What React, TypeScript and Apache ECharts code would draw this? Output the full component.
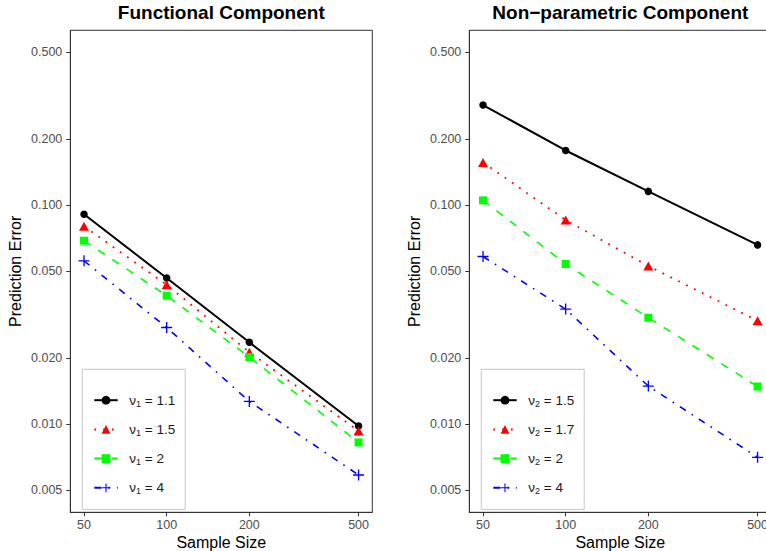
import React, { useEffect, useRef } from "react";
import * as echarts from "echarts";

// ---- data ----
const sampleSizes = [50, 100, 200, 500];
const yTicks = [0.005, 0.01, 0.02, 0.05, 0.1, 0.2, 0.5];
const yTickLabels = ["0.005", "0.010", "0.020", "0.050", "0.100", "0.200", "0.500"];
const xTickLabels = ["50", "100", "200", "500"];

const panelTitles = ["Functional Component", "Non\u2212parametric Component"];
const xAxisTitle = "Sample Size";
const yAxisTitle = "Prediction Error";

const functionalNuLabels = ["1.1", "1.5", "2", "4"];
const functionalNu1_1 = [0.091, 0.0466, 0.0237, 0.00983];
const functionalNu1_5 = [0.0802, 0.0434, 0.02136, 0.00933];
const functionalNu2 = [0.069, 0.0387, 0.0203, 0.00828];
const functionalNu4 = [0.0558, 0.0277, 0.01274, 0.00588];

const nonparNuLabels = ["1.5", "1.7", "2", "4"];
const nonparNu1_5 = [0.287, 0.178, 0.1158, 0.066];
const nonparNu1_7 = [0.157, 0.0857, 0.0529, 0.0297];
const nonparNu2 = [0.1054, 0.054, 0.0307, 0.0149];
const nonparNu4 = [0.0584, 0.0336, 0.01496, 0.00708];

// ---- styles ----
const FONT = "Liberation Sans, Arial, Helvetica, sans-serif";
const PLUS = "path://M4.4,0H5.6V4.4H10V5.6H5.6V10H4.4V5.6H0V4.4H4.4Z";
const seriesStyles = [
  { color: "#000000", width: 2, type: "solid", symbol: "circle", symbolSize: 7.5 },
  { color: "#ff0000", width: 1.8, type: [1.8, 7], symbol: "triangle", symbolSize: [10, 9] },
  { color: "#00ff00", width: 1.6, type: [8, 9], symbol: "rect", symbolSize: 8 },
  { color: "#0000ff", width: 1.6, type: [7, 7, 1.6, 7], symbol: PLUS, symbolSize: 11 },
];

const lg = Math.log10;
const labelFor = (v: number, ticks: number[], labels: string[]) => {
  for (let i = 0; i < ticks.length; i++) if (Math.abs(lg(ticks[i]) - v) < 1e-6) return labels[i];
  return "";
};

const App: React.FC = () => {
  const ref = useRef<HTMLDivElement>(null);
  useEffect(() => {
    if (!ref.current) return;
    const chart = echarts.init(ref.current, null, { renderer: "svg" });

    const xMin = lg(50) - 0.05;
    const xMax = lg(500) + 0.05;
    const yr = lg(0.5) - lg(0.005);
    const yMin = lg(0.005) - 0.05 * yr;
    const yMax = lg(0.5) + 0.05 * yr;

    const panels = [
      { sub: "1", labels: functionalNuLabels, data: [functionalNu1_1, functionalNu1_5, functionalNu2, functionalNu4] },
      { sub: "2", labels: nonparNuLabels, data: [nonparNu1_5, nonparNu1_7, nonparNu2, nonparNu4] },
    ];
    const gridLefts = [70.3, 469.3];
    const legendLefts = [82.3, 481.3];

    const grids = gridLefts.map((l) => ({
      left: l,
      top: 30.3,
      width: 302,
      height: 482,
      containLabel: false,
      outerBoundsMode: "none",
      show: true,
      borderColor: "#333333",
      borderWidth: 1,
      backgroundColor: "#ffffff",
    }));

    const xAxes = gridLefts.map((_, i) => ({
      type: "value",
      gridIndex: i,
      min: xMin,
      max: xMax,
      z: 10,
      name: xAxisTitle,
      nameLocation: "middle",
      nameGap: 22,
      nameMoveOverlap: false,
      nameTextStyle: { fontFamily: FONT, fontSize: 16, color: "#000000", lineHeight: 16 },
      axisLine: { show: true, onZero: false, lineStyle: { color: "#333333", width: 1 } },
      axisTick: { show: true, length: 4, lineStyle: { color: "#333333" }, customValues: sampleSizes.map(lg) },
      axisLabel: {
        show: true,
        margin: 6,
        color: "#4d4d4d",
        fontFamily: FONT,
        fontSize: 12.5,
        hideOverlap: false,
        customValues: sampleSizes.map(lg),
        formatter: (v: number) => labelFor(v, sampleSizes, xTickLabels),
      },
      splitLine: { show: false },
    }));

    const yAxes = gridLefts.map((_, i) => ({
      type: "value",
      gridIndex: i,
      min: yMin,
      max: yMax,
      name: yAxisTitle,
      nameLocation: "middle",
      nameGap: 47,
      nameMoveOverlap: false,
      nameTextStyle: { fontFamily: FONT, fontSize: 16, color: "#000000", lineHeight: 16 },
      axisLine: { show: true, onZero: false, lineStyle: { color: "#333333", width: 1 } },
      axisTick: { show: true, length: 4, lineStyle: { color: "#333333" }, customValues: yTicks.map(lg) },
      axisLabel: {
        show: true,
        margin: 8,
        color: "#4d4d4d",
        fontFamily: FONT,
        fontSize: 12.5,
        customValues: yTicks.map(lg),
        formatter: (v: number) => labelFor(v, yTicks, yTickLabels),
      },
      splitLine: { show: false },
    }));

    const series: any[] = [];
    const legends: any[] = [];
    const nameToRich: Record<string, string> = {};
    panels.forEach((p, pi) => {
      const names: string[] = [];
      p.data.forEach((vals, si) => {
        const st = seriesStyles[si];
        const name = `nu${p.sub}=${p.labels[si]}`;
        names.push(name);
        nameToRich[name] = `{a|\u03bd}{s|${p.sub}}{a| = ${p.labels[si]}}`;
        series.push({
          type: "line",
          name,
          xAxisIndex: pi,
          yAxisIndex: pi,
          data: sampleSizes.map((x, k) => [lg(x), lg(vals[k])]),
          symbol: st.symbol,
          symbolSize: st.symbolSize,
          showSymbol: true,
          lineStyle: { color: st.color, width: st.width, type: st.type },
          itemStyle: { color: st.color },
          z: 3,
        });
      });
      legends.push({
        orient: "vertical",
        left: legendLefts[pi],
        top: 369.3,
        data: names,
        itemWidth: 23.4,
        itemHeight: 11,
        itemGap: 14.2,
        padding: [23.9, 10, 13.6, 11],
        borderColor: "#c6c6c6",
        borderWidth: 1,
        backgroundColor: "#ffffff",
        selectedMode: false,
        formatter: (n: string) => nameToRich[n],
        textStyle: {
          padding: [0, 0, 0, 6.6],
          rich: {
            a: { fontFamily: FONT, fontSize: 13.5, color: "#1a1a1a", lineHeight: 16 },
            s: { fontFamily: FONT, fontSize: 9, color: "#1a1a1a", verticalAlign: "bottom" },
          },
        },
      });
    });

    const graphic = panelTitles.map((t, i) => ({
      type: "text",
      x: gridLefts[i] + 151,
      y: 12,
      style: {
        text: t,
        fill: "#000000",
        font: `bold 19px ${FONT}`,
        textAlign: "center",
        textVerticalAlign: "middle",
      },
    }));

    chart.setOption({
      animation: false,
      backgroundColor: "#ffffff",
      grid: grids,
      xAxis: xAxes,
      yAxis: yAxes,
      legend: legends,
      series,
      graphic,
    } as any);
    return () => chart.dispose();
  }, []);
  return (
    <div
      ref={ref}
      style={{ position: "absolute", left: 0, top: 0, width: 766, height: 551 }}
    />
  );
};

export default App;
